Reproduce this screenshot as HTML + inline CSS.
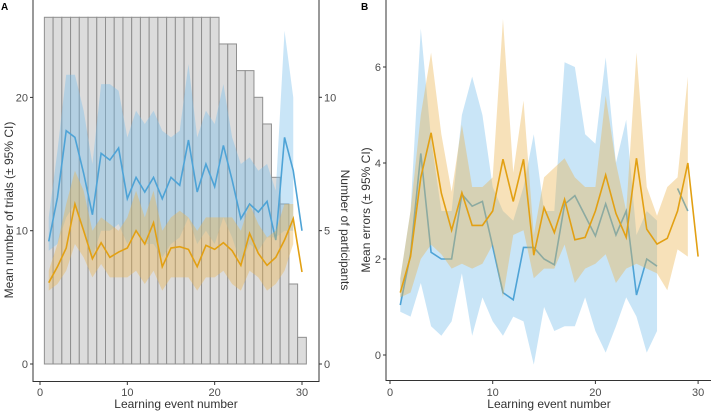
<!DOCTYPE html>
<html><head><meta charset="utf-8"><style>
body{margin:0;background:#fff;font-family:"Liberation Sans",sans-serif}
svg text{font-family:"Liberation Sans",sans-serif}
</style></head><body>
<svg width="712" height="412" viewBox="0 0 712 412" xmlns="http://www.w3.org/2000/svg">
<g id="A"></g>
<g id="B"></g>
</svg>
<script>
const events = Array.from({length:30},(_,i)=>i+1);
const participants = [13,13,13,13,13,13,13,13,13,13,13,13,13,13,13,13,13,13,13,13,12,12,11,11,10,9,7,6,3,1];
const aBlueMean = [9.2,12.5,17.5,17,14.3,11.2,15.8,15.3,16.2,12.4,14,12.9,14,12.4,14,13.4,16.8,12.9,15,13.3,16.4,13.8,10.9,12,11.4,12.2,9.3,17,14.5,10];
const aBlueHi = [11,16,21.7,21.7,19,15,21,21,20.5,17,19,18,19,17.5,17,17.5,22.5,17,19,18,21,17,15,15.5,14.5,15,13,25,20,null];
const aBlueLo = [8.5,9,11,12,10,8,10,10,10.5,9,10,9,9,8,9,9.5,11,9,10,9,11,9.5,7.5,9,8.5,9.5,9.5,10,10,null];
const aOrMean = [6.1,7.3,8.7,12,10,7.9,9.1,8,8.4,8.7,10,9,10.6,7.3,8.7,8.8,8.6,7.3,8.9,8.6,9.1,8.5,7.4,9.8,8.3,7.4,8,9.3,10.9,6.9];
const aOrHi = [7,9,12,14.5,13,10,11,10.5,10,11,13,11,13,10,11,11.5,11,10,11,11,11,11,10,12,10.5,9.5,10,12,12,null];
const aOrLo = [5.5,6,7,9,8,6.5,7.5,6.5,6.5,6.5,7,6,7,5.5,6.5,6.5,6.5,5.5,6.5,6.5,7,6,5.5,7,6.5,5.5,6,7,9,null];
const bBlueMean = [1.04,2.1,4.2,2.14,2,2,3.35,3.1,3.2,2.26,1.3,1.15,2.24,2.24,2,1.88,3.14,3.32,2.9,2.48,3.15,2.5,3,1.25,2,1.85,null,3.47,3,null];
const bBlueHi = [1.6,3,6.8,4.5,3,3,5,5.8,5,3.5,3,2.8,3.5,4.6,3,3,6.1,6,4.6,4.4,6.2,4,4.9,2.5,3,2.8,null,null,null,null];
const bBlueLo = [0.9,0.8,1.5,0.6,0.4,0.7,1.7,0.4,1.2,0.7,0.4,0.8,0.7,-0.2,1,0.5,0.6,0.6,1.2,0.5,0.05,0.6,1.2,0.8,0.05,0.5,null,null,null,null];
const bOrMean = [1.3,2.05,3.7,4.63,3.37,2.6,3.38,2.7,2.7,3,4.08,3.2,4.08,2.08,3.07,2.55,3.24,2.4,2.45,3,3.75,2.95,2.45,4.1,2.62,2.31,2.43,3,4,2.05];
const bOrHi = [1.6,3,5,6.3,4.6,3.4,4.8,3.5,3.5,3.7,7,3.8,5.3,2.5,3.7,3.9,4.1,3.7,3.5,3.5,5.4,4,3,6.3,3.5,2.9,3.5,3.7,5.8,null];
const bOrLo = [1.2,1.3,2,2.3,2.1,1.8,1.9,1.8,1.9,2.3,1.2,2.5,2.6,1.6,1.8,1.8,2.3,1.5,1.8,1.9,2.1,1.5,1.8,1.9,1.8,1.7,1.35,2.2,2.05,null];
const xTicks = [0,10,20,30];
const aYTicks = [0,10,20];
const aRTicks = [0,5,10];
const bYTicks = [0,2,4,6];

const NS="http://www.w3.org/2000/svg";
function mk(p,tag,at,txt){const e=document.createElementNS(NS,tag);for(const k in at)e.setAttribute(k,at[k]);if(txt!==undefined)e.textContent=txt;p.appendChild(e);return e;}
const BLUE="#4ea3d6", OR="#e2a013";

function band(g,xs,hi,lo,fill,name){
  let segs=[],cur=[];
  for(let i=0;i<events.length;i++){if(hi[i]==null||lo[i]==null){if(cur.length)segs.push(cur);cur=[];}else cur.push(i);}
  if(cur.length)segs.push(cur);
  segs.forEach(s=>{
    const top=s.map(i=>xs.x(events[i])+","+xs.y(hi[i]));
    const bot=s.slice().reverse().map(i=>xs.x(events[i])+","+xs.y(lo[i]));
    const p=mk(g,"polygon",{points:top.concat(bot).join(" "),fill:fill});
    
    
  });
}
function line(g,xs,vals,col,name){
  let segs=[],cur=[];
  for(let i=0;i<events.length;i++){if(vals[i]==null){if(cur.length)segs.push(cur);cur=[];}else cur.push(xs.x(events[i])+","+xs.y(vals[i]));}
  if(cur.length)segs.push(cur);
  segs.forEach(s=>{
    const p=mk(g,"polyline",{points:s.join(" "),fill:"none",stroke:col,"stroke-width":1.6});
    
    
  });
}

// Panel A
(function(){
  const g=document.getElementById("A");
  const x=v=>40+v*8.733, y=v=>364-v*13.33, yr=v=>364-v*26.67;
  const xs={x,y};
  participants.forEach((c,i)=>{
    const r=mk(g,"rect",{x:x(events[i]-0.5),y:yr(c),width:8.733,height:yr(0)-yr(c),fill:"#dcdcdc",stroke:"#8f8f8f","stroke-width":1});
    
    
  });
  band(g,xs,aBlueHi,aBlueLo,"rgba(120,190,235,0.4)","blue-ci-band");
  line(g,xs,aBlueMean,BLUE,"blue-mean-line");
  band(g,xs,aOrHi,aOrLo,"rgba(235,180,80,0.4)","orange-ci-band");
  line(g,xs,aOrMean,OR,"orange-mean-line");
  mk(g,"line",{x1:33,y1:0,x2:33,y2:382,stroke:"#333","stroke-width":1});
  mk(g,"line",{x1:319,y1:0,x2:319,y2:382,stroke:"#333","stroke-width":1});
  mk(g,"line",{x1:33,y1:381.5,x2:319,y2:381.5,stroke:"#333","stroke-width":1});
  xTicks.forEach(t=>{mk(g,"line",{x1:x(t),y1:382,x2:x(t),y2:385,stroke:"#333"});mk(g,"text",{x:x(t),y:396,"text-anchor":"middle","font-size":11,fill:"#4d4d4d"},t);});
  aYTicks.forEach(t=>{mk(g,"line",{x1:30,y1:y(t),x2:33,y2:y(t),stroke:"#333"});mk(g,"text",{x:28,y:y(t)+4,"text-anchor":"end","font-size":11,fill:"#4d4d4d"},t);});
  aRTicks.forEach(t=>{mk(g,"line",{x1:319,y1:yr(t),x2:322,y2:yr(t),stroke:"#333"});mk(g,"text",{x:324,y:yr(t)+4,"font-size":11,fill:"#4d4d4d"},t);});
  mk(g,"text",{x:176,y:408,"text-anchor":"middle","font-size":12,fill:"#333",},"Learning event number");
  mk(g,"text",{x:0,y:0,transform:"translate(13,210) rotate(-90)","text-anchor":"middle","font-size":12,fill:"#333",},"Mean number of trials (± 95% CI)");
  mk(g,"text",{x:0,y:0,transform:"translate(341,230) rotate(90)","text-anchor":"middle","font-size":12,fill:"#333",},"Number of participants");
  mk(g,"text",{x:1,y:10,"font-size":10,"font-weight":"bold",},"A");
})();

// Panel B
(function(){
  const g=document.getElementById("B");
  const x=v=>390+v*10.27, y=v=>355-v*48;
  const xs={x,y};
  band(g,xs,bBlueHi,bBlueLo,"rgba(120,190,235,0.4)","blue-ci-band");
  line(g,xs,bBlueMean,BLUE,"blue-mean-line");
  band(g,xs,bOrHi,bOrLo,"rgba(235,180,80,0.4)","orange-ci-band");
  line(g,xs,bOrMean,OR,"orange-mean-line");
  mk(g,"line",{x1:386,y1:0,x2:386,y2:381,stroke:"#333"});
  mk(g,"line",{x1:386,y1:380.5,x2:711,y2:380.5,stroke:"#333"});
  xTicks.forEach(t=>{mk(g,"line",{x1:x(t),y1:381,x2:x(t),y2:384,stroke:"#333"});mk(g,"text",{x:x(t),y:396,"text-anchor":"middle","font-size":11,fill:"#4d4d4d"},t);});
  bYTicks.forEach(t=>{mk(g,"line",{x1:383,y1:y(t),x2:386,y2:y(t),stroke:"#333"});mk(g,"text",{x:381,y:y(t)+4,"text-anchor":"end","font-size":11,fill:"#4d4d4d"},t);});
  mk(g,"text",{x:549,y:408,"text-anchor":"middle","font-size":12,fill:"#333",},"Learning event number");
  mk(g,"text",{x:0,y:0,transform:"translate(370,210) rotate(-90)","text-anchor":"middle","font-size":12,fill:"#333",},"Mean errors (± 95% CI)");
  mk(g,"text",{x:361,y:10,"font-size":10,"font-weight":"bold",},"B");
})();
</script>
</body></html>
